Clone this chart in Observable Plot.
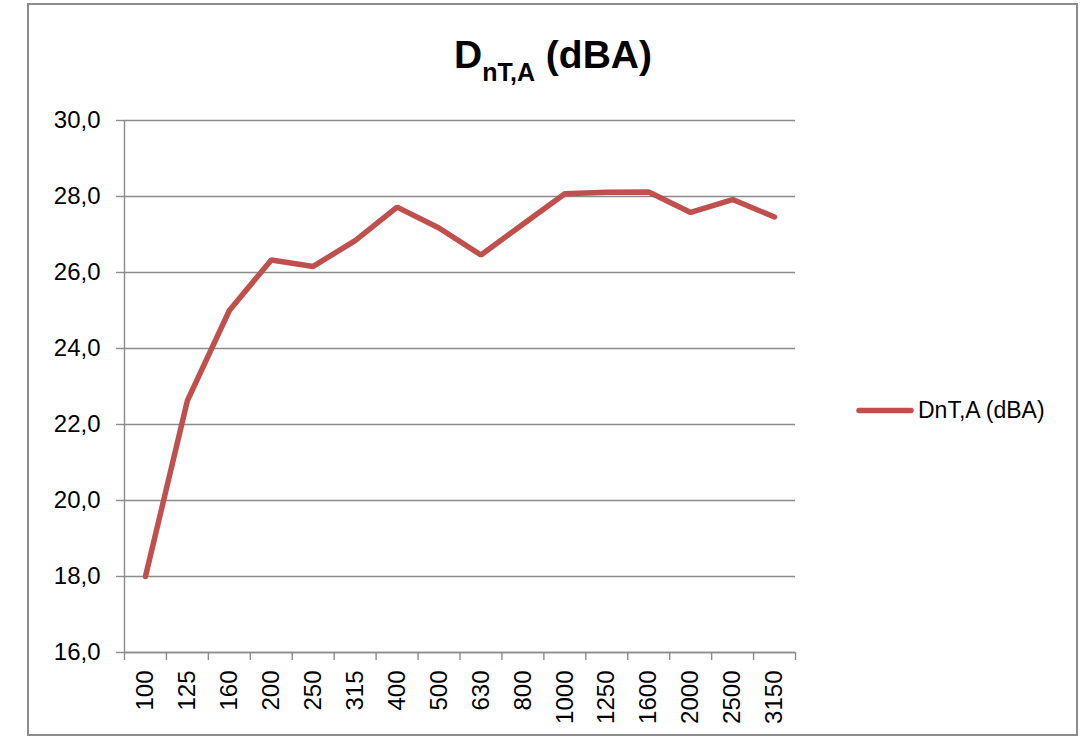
<!DOCTYPE html>
<html>
<head>
<meta charset="utf-8">
<script src="https://cdn.jsdelivr.net/npm/d3@7"></script>
<script src="https://cdn.jsdelivr.net/npm/@observablehq/plot@0.6"></script>
<style>
  html, body { margin: 0; padding: 0; background: #fff; }
  #wrap { position: relative; width: 1087px; height: 736px; overflow: hidden; font-family: "Liberation Sans", Arial, sans-serif; }
  #border { position: absolute; left: 27px; top: 3px; width: 1047px; height: 729px; border: 2px solid #8c8c8c; }
  #chart { position: absolute; left: 0; top: 0; }
  .overlay { position: absolute; left: 0; top: 0; }
</style>
</head>
<body>
<div id="wrap">
  <div id="border"></div>
  <div id="chart"></div>
</div>
<script>
const categories = ["100","125","160","200","250","315","400","500","630","800","1000","1250","1600","2000","2500","3150"];
const values = [18.0, 22.63, 25.0, 26.33, 26.16, 26.84, 27.72, 27.17, 26.46, 27.27, 28.07, 28.11, 28.12, 27.58, 27.92, 27.46];
const yTicks = [16, 18, 20, 22, 24, 26, 28, 30];
const seriesName = "DnT,A (dBA)";
const titleMain = "D";
const titleSub = "nT,A";
const titleRest = " (dBA)";

const data = categories.map((c, i) => ({i, cat: c, value: values[i]}));
const idx = categories.map((c, i) => i);
const bounds = d3.range(categories.length + 1).map(i => i - 0.5);

const gridColor = "#8c8c8c";
const lineColor = "#C0504D";
const font = "Liberation Sans, Arial, sans-serif";

const plot = Plot.plot({
  width: 1087,
  height: 736,
  marginLeft: 124,
  marginRight: 292,
  marginTop: 120,
  marginBottom: 84,
  style: {background: "transparent", fontFamily: font, fontSize: "24px", color: "#000"},
  x: {type: "linear", domain: [-0.5, categories.length - 0.5], axis: null},
  y: {domain: [16, 30], axis: null},
  marks: [
    Plot.gridY(yTicks, {stroke: gridColor, strokeOpacity: 1, strokeWidth: 1.4}),
    Plot.axisY({ticks: yTicks, tickSize: 8, tickPadding: 16, stroke: gridColor, strokeWidth: 1.4,
      tickFormat: d => d.toFixed(1).replace(".", ","), fontSize: 24, fill: "#000", label: null}),
    Plot.ruleX([-0.5], {stroke: gridColor, strokeWidth: 1.4}),
    Plot.ruleY([16], {stroke: gridColor, strokeWidth: 1.4}),
    Plot.axisX({ticks: bounds, tickSize: 8, tickFormat: () => "", stroke: gridColor, strokeWidth: 1.4, label: null}),
    Plot.axisX({ticks: idx, tickSize: 0, tickPadding: 18, tickRotate: -90, tickFormat: i => categories[i],
      fontSize: 24, fill: "#000", label: null}),
    Plot.line(data, {x: "i", y: "value", stroke: lineColor, strokeWidth: 5.5, strokeLinejoin: "miter", strokeLinecap: "round"})
  ]
});
document.getElementById("chart").appendChild(plot);

// Title and legend overlay
const ov = d3.select("#wrap").append("svg")
  .attr("class", "overlay").attr("width", 1087).attr("height", 736)
  .style("font-family", font);
const t = ov.append("text").attr("x", 553).attr("y", 68)
  .attr("text-anchor", "middle").attr("font-weight", "bold").attr("font-size", 39).attr("fill", "#000");
t.append("tspan").text(titleMain);
t.append("tspan").attr("font-size", 25).attr("dy", 13).text(titleSub);
t.append("tspan").attr("dy", -13).text(titleRest);

ov.append("line").attr("x1", 859).attr("x2", 911).attr("y1", 410.5).attr("y2", 410.5)
  .attr("stroke", lineColor).attr("stroke-width", 5.5).attr("stroke-linecap", "round");
ov.append("text").attr("x", 918).attr("y", 418).attr("font-size", 23).attr("fill", "#000").text(seriesName);
</script>
</body>
</html>
